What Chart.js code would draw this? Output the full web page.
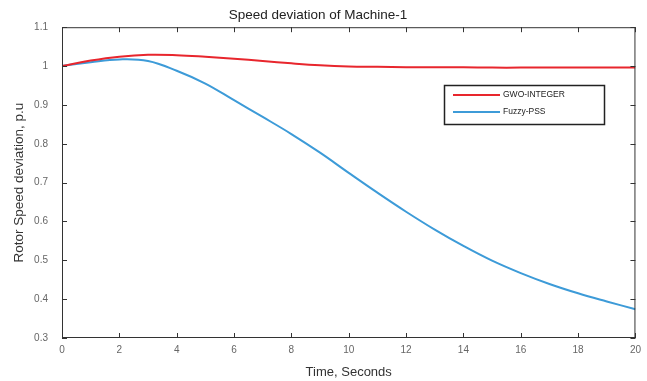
<!DOCTYPE html>
<html>
<head>
<meta charset="utf-8">
<script src="https://cdn.jsdelivr.net/npm/chart.js@4"></script>
<style>
  html, body { margin: 0; padding: 0; background: #fff; }
  #wrap { width: 647px; height: 381px; }
</style>
</head>
<body>
<div id="wrap"><canvas id="myChart"></canvas></div>
<script>
// time axis, seconds
var timeValues = [0, 1, 2, 3, 4, 5, 6, 7, 8, 9, 10, 11, 12, 13, 14, 15, 16, 17, 18, 19, 20];
// GWO-INTEGER speed deviation
var gwoValues = [1.000, 1.014, 1.024, 1.029, 1.028, 1.024, 1.019, 1.013, 1.007, 1.002, 0.999,
                 0.998, 0.997, 0.997, 0.997, 0.996, 0.996, 0.996, 0.996, 0.996, 0.996];
// Fuzzy-PSS speed deviation
var fuzzyValues = [1.000, 1.010, 1.017, 1.013, 0.988, 0.955, 0.912, 0.869, 0.825, 0.777, 0.725,
                   0.674, 0.625, 0.579, 0.537, 0.499, 0.467, 0.439, 0.415, 0.394, 0.374];
var seriesNames = ["GWO-INTEGER", "Fuzzy-PSS"];
var xTicks = [0, 2, 4, 6, 8, 10, 12, 14, 16, 18, 20];
var yTicks = [0.3, 0.4, 0.5, 0.6, 0.7, 0.8, 0.9, 1, 1.1];

function toPoints(vals) {
    return timeValues.map(function (t, i) { return { x: t, y: vals[i] }; });
}

// matlab style box with inward ticks + legend inside
var boxPlugin = {
    id: 'boxPlugin',
    afterDatasetsDraw: function (chart) {
        var ctx = chart.ctx;
        var a = chart.chartArea;
        var xs = chart.scales.x, ys = chart.scales.y;
        ctx.save();
        ctx.strokeStyle = '#333';
        ctx.lineWidth = 1;
        ctx.strokeRect(a.left + 0.5, a.top + 0.5, a.right - a.left - 1, a.bottom - a.top - 1);
        ctx.beginPath();
        xTicks.forEach(function (v) {
            var px = Math.round(xs.getPixelForValue(v)) + 0.5;
            ctx.moveTo(px, a.bottom); ctx.lineTo(px, a.bottom - 5);
            ctx.moveTo(px, a.top); ctx.lineTo(px, a.top + 5);
        });
        yTicks.forEach(function (v) {
            var py = Math.round(ys.getPixelForValue(v)) + 0.5;
            ctx.moveTo(a.left, py); ctx.lineTo(a.left + 5, py);
            ctx.moveTo(a.right, py); ctx.lineTo(a.right - 5, py);
        });
        ctx.stroke();

        // legend
        var lx = 444, ly = 85, lw = 160, lh = 39;
        ctx.fillStyle = '#fff';
        ctx.fillRect(lx, ly, lw, lh);
        ctx.strokeStyle = '#222';
        ctx.lineWidth = 1.5;
        ctx.strokeRect(lx + 0.5, ly + 0.5, lw, lh);
        ctx.font = '8.5px "Liberation Sans", Arial, sans-serif';
        ctx.textBaseline = 'middle';
        chart.data.datasets.forEach(function (ds, i) {
            var yy = ly + 10 + i * 17;
            ctx.strokeStyle = ds.borderColor;
            ctx.lineWidth = 2;
            ctx.beginPath();
            ctx.moveTo(lx + 9, yy); ctx.lineTo(lx + 56, yy);
            ctx.stroke();
            ctx.fillStyle = '#222';
            ctx.fillText(ds.label, lx + 59, yy);
        });
        ctx.restore();
    }
};

new Chart('myChart', {
    type: 'line',
    data: {
        datasets: [{
            label: seriesNames[0],
            data: toPoints(gwoValues),
            borderColor: '#e8262d',
            borderWidth: 2,
            pointRadius: 0,
            tension: 0.4
        }, {
            label: seriesNames[1],
            data: toPoints(fuzzyValues),
            borderColor: '#3d9bd8',
            borderWidth: 2,
            pointRadius: 0,
            tension: 0.4
        }]
    },
    options: {
        responsive: true,
        maintainAspectRatio: false,
        animation: false,
        layout: { padding: { left: 0, right: 11, top: 0, bottom: 0 } },
        plugins: {
            legend: { display: false },
            tooltip: { enabled: false },
            title: {
                display: true,
                text: 'Speed deviation of Machine-1',
                color: '#222',
                font: { size: 13.5, weight: 'normal', family: '"Liberation Sans", Arial, sans-serif' },
                padding: { top: 7, bottom: 4 }
            }
        },
        scales: {
            x: {
                type: 'linear',
                min: 0, max: 20,
                grid: { display: false, drawTicks: false },
                border: { display: false },
                afterBuildTicks: function (s) { s.ticks = xTicks.map(function (v) { return { value: v }; }); },
                afterFit: function (s) { s.height = 43; },
                ticks: {
                    color: '#666',
                    padding: 6,
                    maxRotation: 0,
                    font: { size: 10, family: '"Liberation Sans", Arial, sans-serif' }
                },
                title: {
                    display: true,
                    text: 'Time, Seconds',
                    color: '#333',
                    padding: { top: 0, bottom: 1 },
                    font: { size: 13, family: '"Liberation Sans", Arial, sans-serif' }
                }
            },
            y: {
                min: 0.3, max: 1.1,
                grid: { display: false, drawTicks: false },
                border: { display: false },
                afterBuildTicks: function (s) { s.ticks = yTicks.map(function (v) { return { value: v }; }); },
                afterFit: function (s) { s.width = 62; },
                ticks: {
                    color: '#666',
                    padding: 14,
                    font: { size: 10, family: '"Liberation Sans", Arial, sans-serif' },
                    callback: function (v) { return String(v); }
                },
                title: {
                    display: true,
                    text: 'Rotor Speed deviation, p.u',
                    color: '#333',
                    padding: { top: 11, bottom: 0 },
                    font: { size: 13.5, family: '"Liberation Sans", Arial, sans-serif' }
                }
            }
        }
    },
    plugins: [boxPlugin]
});
</script>
</body>
</html>
